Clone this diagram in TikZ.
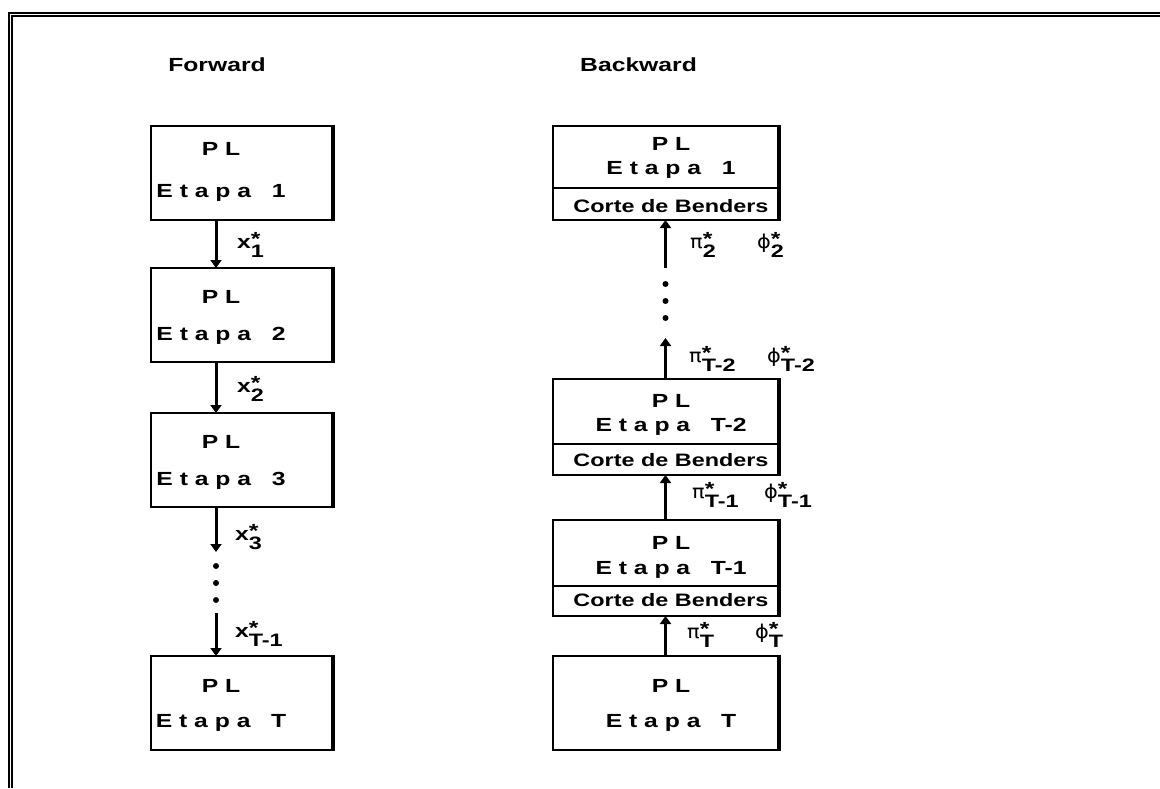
\documentclass[tikz,border=0pt]{standalone}
\usepackage{fontspec}
\setmainfont{Liberation Sans}[FakeStretch=1.3]
\newfontfamily\grk{DejaVu Sans}[FakeStretch=1.1]
\usetikzlibrary{arrows.meta}
\newcommand\sv[2]{#1\makebox[0pt][l]{\raisebox{3pt}{\fontsize{19}{19}\selectfont *}}\raisebox{-9pt}{\fontsize{18}{18}\selectfont #2}}
\tikzset{
  stage/.style={draw, line width=2pt, outer sep=0pt, inner sep=0pt},
  txt/.style={anchor=base, inner sep=0pt, font=\fontsize{19}{19}\selectfont\bfseries},
  ctxt/.style={anchor=base, inner sep=0pt, font=\fontsize{18}{18}\selectfont\bfseries},
  lab/.style={anchor=base west, inner sep=0pt, font=\fontsize{19}{19}\selectfont\bfseries},
  arr/.style={line width=3pt, -{Triangle[width=11pt,length=8pt]}},
  divider/.style={line width=1.3pt},
  dot/.style={fill=black}
}
\begin{document}
\begin{tikzpicture}[x=1pt,y=-1pt]
\useasboundingbox (0,0) rectangle (1160,788);
% page frame (top and left double lines)
\draw[line width=2pt] (8.7,788) -- (8.7,13) -- (1160,13);
\draw[line width=2pt] (12.3,788) -- (12.3,16.3) -- (1160,16.3);

% titles
\node[txt] (tf) at (217,71) {Forward};
\node[txt, anchor=base west] (tb) at (580,71) {Backward};

% forward boxes
\node[stage, minimum width=181pt, minimum height=94pt] (f1) at (241.5,173) {};
\node[stage, minimum width=181pt, minimum height=94pt] (f2) at (241.5,315) {};
\node[stage, minimum width=181pt, minimum height=94pt] (f3) at (241.5,460) {};
\node[stage, minimum width=181pt, minimum height=94pt] (fT) at (241.5,703) {};
\node[txt] (f1a) at (221,155) {P L};
\node[txt] (f1b) at (221,197) {E t a p a \ \ 1};
\node[txt] (f2a) at (221,303) {P L};
\node[txt] (f2b) at (221,340) {E t a p a \ \ 2};
\node[txt] (f3a) at (221,448) {P L};
\node[txt] (f3b) at (221,485) {E t a p a \ \ 3};
\node[txt] (fTa) at (221,692) {P L};
\node[txt] (fTb) at (221,727) {E t a p a \ \ T};

% backward boxes
\node[stage, minimum width=225pt, minimum height=94pt] (b1) at (665.5,173) {};
\node[stage, minimum width=225pt, minimum height=96pt] (bT2) at (665.5,427) {};
\node[stage, minimum width=225pt, minimum height=96pt] (bT1) at (665.5,568) {};
\node[stage, minimum width=225pt, minimum height=94pt] (bT) at (665.5,703) {};
\draw[divider] ([yshift=-62pt]b1.north west) -- ([yshift=-62pt]b1.north east);
\draw[divider] ([yshift=-65pt]bT2.north west) -- ([yshift=-65pt]bT2.north east);
\draw[divider] ([yshift=-66pt]bT1.north west) -- ([yshift=-66pt]bT1.north east);
\node[txt] (b1a) at (671,150) {P L};
\node[txt] (b1b) at (671,174) {E t a p a \ \ 1};
\node[ctxt] (b1c) at (671,212) {Corte de Benders};
\node[txt] (bT2a) at (671,407) {P L};
\node[txt] (bT2b) at (671,431) {E t a p a \ \ T-2};
\node[ctxt] (bT2c) at (671,466) {Corte de Benders};
\node[txt] (bT1a) at (671,549) {P L};
\node[txt] (bT1b) at (671,574) {E t a p a \ \ T-1};
\node[ctxt] (bT1c) at (671,606) {Corte de Benders};
\node[txt] (bTa) at (671,692) {P L};
\node[txt] (bTb) at (671,727) {E t a p a \ \ T};

% thicker right edges
\foreach \n in {f1,f2,f3,fT,b1,bT2,bT1,bT}
  \draw[line width=2pt] ([xshift=1.5pt,yshift=1pt]\n.north east) -- ([xshift=1.5pt,yshift=-1pt]\n.south east);

% forward connectors
\draw[arr] ([xshift=-25.5pt]f1.south) -- ([xshift=-25.5pt]f2.north);
\draw[arr] ([xshift=-25.5pt]f2.south) -- ([xshift=-25.5pt]f3.north);
\coordinate (fc1) at (216,552);
\coordinate (fc2) at (216,613);
\draw[arr] ([xshift=-25.5pt]f3.south) -- (fc1);
\draw[arr] (fc2) -- ([xshift=-25.5pt]fT.north);
\fill[dot] (216,566) circle (3pt);
\fill[dot] (216,583) circle (3pt);
\fill[dot] (216,600) circle (3pt);

% backward connectors
\draw[arr] (bT.north) -- (bT1.south);
\draw[arr] (bT1.north) -- (bT2.south);
\coordinate (bc1) at (665.5,338);
\coordinate (bc2) at (665.5,268);
\draw[arr] (bT2.north) -- (bc1);
\draw[arr] (bc2) -- (b1.south);
\fill[dot] (665.5,318) circle (3pt);
\fill[dot] (665.5,301) circle (3pt);
\fill[dot] (665.5,284) circle (3pt);

% forward labels
\node[lab] (lx1) at (237,248) {\sv{x}{1}};
\node[lab] (lx2) at (237,392) {\sv{x}{2}};
\node[lab] (lx3) at (235,540) {\sv{x}{3}};
\node[lab] (lx4) at (235,637) {\sv{x}{T-1}};

% backward labels
\node[lab] (lp2) at (690,248) {\sv{{\grk\mdseries π}}{2}};
\node[lab] (lf2) at (757,248) {\sv{{\grk\mdseries ϕ}}{2}};
\node[lab] (lp3) at (689,362) {\sv{{\grk\mdseries π}}{T-2}};
\node[lab] (lf3) at (767,362) {\sv{{\grk\mdseries ϕ}}{T-2}};
\node[lab] (lp4) at (692,498) {\sv{{\grk\mdseries π}}{T-1}};
\node[lab] (lf4) at (764,498) {\sv{{\grk\mdseries ϕ}}{T-1}};
\node[lab] (lp5) at (687,638) {\sv{{\grk\mdseries π}}{T}};
\node[lab] (lf5) at (755,638) {\sv{{\grk\mdseries ϕ}}{T}};
\end{tikzpicture}
\end{document}
